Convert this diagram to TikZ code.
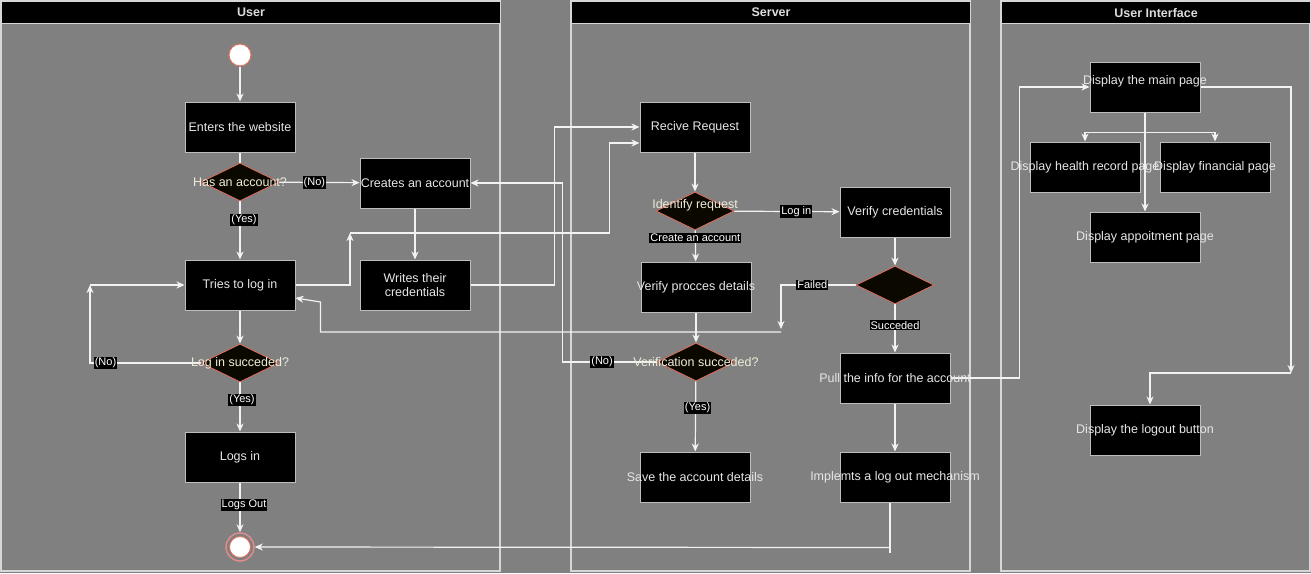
\documentclass[tikz,border=0pt]{standalone}
\usepackage{fontspec}
\setmainfont{Liberation Sans}
\usetikzlibrary{arrows.meta,shapes.geometric,calc}
\definecolor{bgc}{HTML}{808080}
\definecolor{lanec}{HTML}{D6D6D6}
\definecolor{boxc}{HTML}{BDBDBD}
\definecolor{linec}{HTML}{F2F2F2}
\definecolor{decc}{HTML}{E0705F}
\definecolor{decf}{HTML}{0B0800}
\definecolor{txtc}{HTML}{E6E6E6}
\definecolor{dtxt}{HTML}{EDEDDA}
\definecolor{hdrc}{HTML}{DCDCDC}
\definecolor{endc}{HTML}{E08A8A}
\newcommand\ovtxt[1]{\makebox[0pt]{#1}}
\pgfdeclarelayer{back}
\pgfsetlayers{back,main}
\begin{document}
\begin{tikzpicture}[x=1pt,y=-1pt, font=\fontsize{12.5}{14.5}\selectfont,
 box/.style={draw=boxc, fill=black, line width=1pt, minimum width=110pt, minimum height=50pt, inner sep=0pt, text=txtc},
 txt/.style={text=txtc, inner sep=0pt},
 dec/.style={diamond, draw=decc, fill=decf, line width=0.8pt, minimum width=78pt, minimum height=38pt, inner sep=0pt, text=dtxt},
 arr/.style={draw=linec, line width=1.2pt, -{Stealth[length=8pt,width=7pt,inset=2.5pt]}},
 ln/.style={draw=linec, line width=1.2pt},
 lbl/.style={fill=black, text=white, font=\fontsize{11}{12}\selectfont, inner sep=1pt},
 lane/.style={draw=lanec, line width=1.2pt},
 hdr/.style={draw=lanec, fill=black, line width=1.2pt, text=hdrc, inner sep=0pt, minimum height=22pt, anchor=north west, font=\bfseries\fontsize{12.5}{14}\selectfont}]

\begin{pgfonlayer}{back}
\fill[bgc] (0,0) rectangle (1311,573);
\draw[lane] (1,1) rectangle (500,571);
\draw[lane] (571,1) rectangle (970,571);
\draw[lane] (1001,1) rectangle (1310,571);
\end{pgfonlayer}
\useasboundingbox (0,0) rectangle (1311,573);

\node[hdr, minimum width=499pt] (hu) at (1,1) {User};
\node[hdr, minimum width=399pt] (hs) at (571,1) {Server};
\node[hdr, minimum width=309pt] (hi) at (1001,1) {User Interface};

% User lane
\node[circle, fill=white, draw=decc, line width=1pt, minimum size=22pt, inner sep=0pt] (start) at (240,55) {};
\node[box] (enter) at (240,127) {Enters the website};
\node[dec] (d1) at (240,182) {\ovtxt{Has an account?}};
\node[box] (creates) at (415,183) {\ovtxt{Creates an account}};
\node[box] (tries) at (240,285) {Tries to log in};
\node[box, align=center] (writes) at (415,285) {Writes their\\credentials};
\node[dec] (d2) at (240,363) {\ovtxt{Log in succeded?}};
\node[box] (logsin) at (240,457) {Logs in};
\node[circle, draw=endc, line width=1.5pt, minimum size=28pt, inner sep=0pt] (end) at (240,547) {};
\node[circle, fill=white, draw=decc, line width=0.8pt, minimum size=21pt, inner sep=0pt] (endin) at (end) {};

% Server lane
\node[box] (recive) at (695,127) {Recive Request};
\node[dec] (d3) at (695,211) {};
\node[txt, text=dtxt] (d3t) at ($(d3)+(0,-6)$) {Identify request};
\node[box] (vcred) at (895,212) {Verify credentials};
\node[dec] (d5) at (895,285) {};
\node[box] (vproc) at (696,287) {\ovtxt{Verify procces details}};
\node[dec] (d4) at (696,362) {\ovtxt{Verification succeded?}};
\node[box] (pull) at (895,378) {\ovtxt{Pull the info for the account}};
\node[box] (save) at (695,477) {\ovtxt{Save the account details}};
\node[box] (impl) at (895,477) {\ovtxt{Implemts a log out mechanism}};

% UI lane
\node[box] (main) at (1145,87) {};
\node[txt] (maint) at ($(main)+(0,-6)$) {Display the main page};
\node[box] (health) at (1085,167) {\ovtxt{Display health record page}};
\node[box] (fin) at (1215,167) {\ovtxt{Display financial page}};
\node[box] (appt) at (1145,237) {\ovtxt{Display appoitment page}};
\node[box] (logout) at (1145,430) {\ovtxt{Display the logout button}};

\coordinate (c1) at (90,285);
\coordinate (c2) at (350,233);
\coordinate (c3) at (781,332);
\coordinate (c5) at (1291,373);
\coordinate (c6) at ($(main.south)+(0,20)$);

\begin{pgfonlayer}{back}
\draw[arr] (start) -- (enter);
\draw[ln] (enter) -- (d1);
\draw[arr] (d1) -- node[lbl, pos=0.44]{(No)} (creates);
\draw[arr] (d1) -- node[lbl, pos=0.32, xshift=4pt]{(Yes)} (tries);
\draw[arr] (creates) -- (writes);
\draw[arr] (tries) -- (d2);
\draw[arr] (d2.west) -| node[lbl, pos=0.43]{(No)} (c1);
\draw[arr] (c1) -- (tries);
\draw[arr] (d2) -- node[lbl, pos=0.36, xshift=2pt]{(Yes)} (logsin);
\draw[arr] (logsin) -- node[lbl, pos=0.45, xshift=4pt]{Logs Out} (end);

\draw[arr] (tries.east) -| (c2);
\draw[arr] (c2) -| ($(recive.west)+(-30,16)$) -- ($(recive.west)+(0,16)$);
\draw[arr] (writes.east) -| ($(recive.west)+(-85,0)$) -- (recive.west);

\draw[arr] (recive) -- (d3);
\draw[arr] (d3) -- node[lbl, pos=0.59]{Log in} (vcred);
\draw[arr] (d3) -- node[lbl, pos=0.25]{Create an account} (vproc);
\draw[arr] (vcred) -- (d5);
\draw[arr] (d5.west) -| node[lbl, pos=0.29]{Failed} ($(c3)+(0,-3)$);
\draw[arr] (c3) -- ($(tries.east)+(25,47)$) -- ($(tries.east)+(25,17)$) -- ($(tries.east)+(0,13)$);
\draw[arr] (vproc) -- (d4);
\draw[arr] (d4.west) -- node[lbl, pos=0.58]{(No)} ($(d4.west)+(-94,0)$) |- (creates.east);
\draw[arr] (d4) -- node[lbl, pos=0.38, xshift=2pt]{(Yes)} (save);
\draw[arr] (d5) -- node[lbl, pos=0.43]{Succeded} (pull);
\draw[arr] (pull) -- (impl);
\draw[ln] ($(impl.south)+(-5,0)$) -- ($(impl.south)+(-5,50)$);
\draw[arr] ($(impl.south)+(-5,45)$) -- (end.east);

\draw[arr] (pull.east) -| ($(main.west)+(-70,0)$) -- (main.west);
\draw[ln] (main.south) -- (c6);
\draw[arr] (c6) -| (health.north);
\draw[arr] (c6) -| (fin.north);
\draw[arr] (main) -- (appt);
\draw[arr] (main.east) -| (c5);
\draw[arr] (c5) -| ($(logout.north)+(5,0)$);
\end{pgfonlayer}
\end{tikzpicture}
\end{document}
